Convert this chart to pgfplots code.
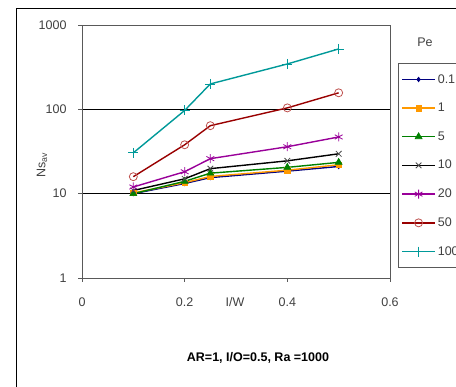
\documentclass[border=0pt]{standalone}
\usepackage{pgfplots}
\pgfplotsset{compat=1.18}
\usepackage{fontspec}
\setmainfont{Liberation Sans}
\definecolor{cNavy}{RGB}{0,0,128}
\definecolor{cOrange}{RGB}{255,153,0}
\definecolor{cGreen}{RGB}{0,128,0}
\definecolor{cPurple}{RGB}{153,0,153}
\definecolor{cDarkRed}{RGB}{153,0,0}
\definecolor{cCircle}{RGB}{190,80,77}
\definecolor{cTeal}{RGB}{0,153,153}
\begin{document}
\begin{tikzpicture}
\useasboundingbox (0,0) rectangle (456pt,387pt);
\draw[black, line width=0.8pt] (16pt,-10pt) -- (16pt,379pt) -- (480pt,379pt);
\node[text=black!75] at (425pt,345pt) {\fontsize{12.5}{14}\selectfont Pe};
\node at (258pt,29pt) {\fontsize{12.5}{14}\selectfont\bfseries AR=1, I/O=0.5, Ra =1000};
\begin{axis}[
  at={(82pt,109pt)}, anchor=south west,
  scale only axis, width=308pt, height=253pt,
  ymode=log, ymin=1, ymax=1000,
  xmin=0, xmax=0.6,
  xtick={0,0.2,0.4,0.6}, xticklabels={0,0.2,0.4,0.6},
  ytick={1,10,100,1000}, yticklabels={1,10,100,1000},
  minor ytick={}, yminorticks=false,
  tick align=outside, xtick pos=bottom, ytick pos=left,
  major tick length=4pt,
  tick style={gray!70!black, line width=0.6pt},
  axis line style={gray!70!black, line width=0.8pt},
  ymajorgrids, major grid style={black, line width=0.6pt},
  ticklabel style={font=\fontsize{12.5}{14}\selectfont, text=black!75},
  xticklabel style={yshift=-12pt},
  yticklabel style={xshift=-8pt},
  /pgf/number format/assume math mode=true,
  clip=false,
  legend style={at={(1.026,0.85)}, anchor=north west, draw=gray!70!black, line width=0.8pt,
    font=\fontsize{12.5}{14}\selectfont, row sep=14.5pt, inner xsep=3pt, inner ysep=9pt,
    cells={anchor=west, text=black!75}},
  legend image code/.code={\draw[mark repeat=2,mark phase=2,#1] plot coordinates {(0pt,0pt) (16.5pt,0pt) (33pt,0pt)};},
  every axis plot/.append style={line width=1.4pt},
]
\node[font=\fontsize{12.5}{14}\selectfont, text=black!75] at (rel axis cs:0.497,-0.095) {I/W};
\node[font=\fontsize{12.5}{14}\selectfont, text=black!75, rotate=90] at (rel axis cs:-0.13,0.445) {Ns$_{\mathrm{av}}$};
\addplot[cNavy, mark=diamond*, mark size=2.3pt, mark options={line width=0.6pt}] coordinates {(0.1,10) (0.2,13.2) (0.25,15.5) (0.4,18.5) (0.5,21)};
\addlegendentry{0.1}
\addplot[cOrange, mark=square*, mark size=2.8pt, mark options={line width=0.6pt}] coordinates {(0.1,10.2) (0.2,13.5) (0.25,16) (0.4,19) (0.5,22)};
\addlegendentry{1}
\addplot[cGreen, mark=triangle*, mark size=4pt, mark options={line width=0.6pt}] coordinates {(0.1,10) (0.2,14) (0.25,17.5) (0.4,20.5) (0.5,23.5)};
\addlegendentry{5}
\addplot[black, mark=x, mark size=4pt, mark options={gray!60!black, line width=0.8pt}] coordinates {(0.1,10.9) (0.2,15) (0.25,19.8) (0.4,24.5) (0.5,29.7)};
\addlegendentry{10}
\addplot[cPurple, mark=asterisk, mark size=4.5pt, mark options={line width=0.8pt}] coordinates {(0.1,12) (0.2,18.2) (0.25,26) (0.4,36) (0.5,47)};
\addlegendentry{20}
\addplot[cDarkRed, mark=o, mark size=4pt, mark options={cCircle, line width=0.8pt}] coordinates {(0.1,15.9) (0.2,38) (0.25,64) (0.4,104) (0.5,157)};
\addlegendentry{50}
\addplot[cTeal, mark=+, mark size=5pt, mark options={line width=0.8pt}] coordinates {(0.1,30.5) (0.2,97) (0.25,200) (0.4,345) (0.5,520)};
\addlegendentry{100}
\end{axis}
\end{tikzpicture}
\end{document}
